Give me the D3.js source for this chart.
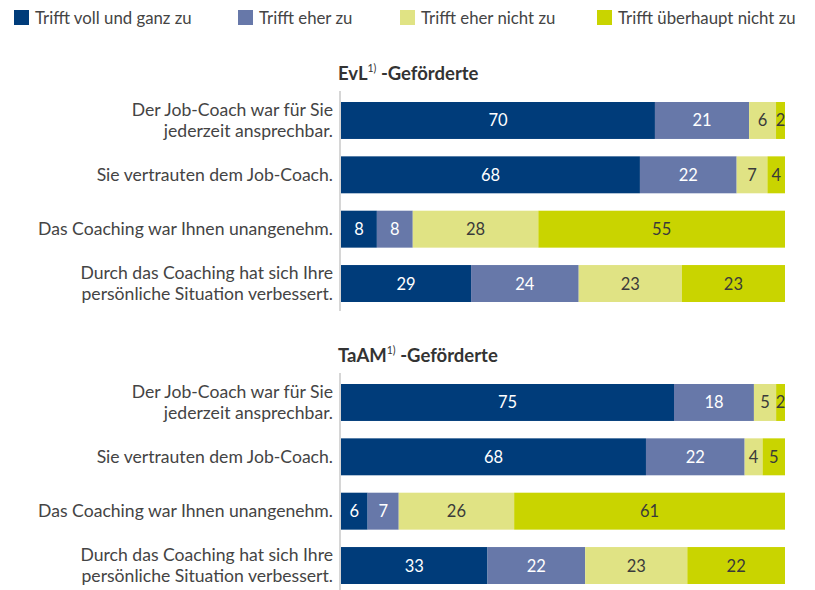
<!DOCTYPE html>
<html>
<head>
<meta charset="utf-8">
<script src="https://cdn.jsdelivr.net/npm/d3@7.9.0/dist/d3.min.js"></script>
<style>
  body { margin: 0; background: #fff; }
  svg { font-family: Lato, "Open Sans", sans-serif; }
</style>
</head>
<body>
<svg id="chart" width="815" height="590"></svg>
<script>
// categories + series
const keys = ['Trifft voll und ganz zu', 'Trifft eher zu', 'Trifft eher nicht zu', 'Trifft überhaupt nicht zu'];
const colors = ['#003c7a', '#6778a9', '#e0e384', '#c9d400'];
const textColors = ['#fff', '#fff', '#3a3a3a', '#3a3a3a'];

const questions = [
  ['Der Job-Coach war für Sie', 'jederzeit ansprechbar.'],
  ['Sie vertrauten dem Job-Coach.'],
  ['Das Coaching war Ihnen unangenehm.'],
  ['Durch das Coaching hat sich Ihre', 'persönliche Situation verbessert.']
];

const groups = ['EvL', 'TaAM'];
// values per group, one row per question (in % , rounded as printed)
const evlValues = [
  [70, 21, 6, 2],
  [68, 22, 7, 4],
  [8, 8, 28, 55],
  [29, 24, 23, 23]
];
const taamValues = [
  [75, 18, 5, 2],
  [68, 22, 4, 5],
  [6, 7, 26, 61],
  [33, 22, 23, 22]
];

const svg = d3.select('#chart');

// legend
const legendX = [14, 238, 400, 597];
const legend = svg.append('g');
keys.forEach((k, i) => {
  legend.append('rect').attr('x', legendX[i]).attr('y', 10).attr('width', 15).attr('height', 15).attr('fill', colors[i]);
  legend.append('text').attr('x', legendX[i] + 21).attr('y', 24)
    .attr('font-size', 16.8).attr('fill', '#444').text(k);
});

const x = d3.scaleLinear().domain([0, 1]).range([341, 785]);
const stack = d3.stack().keys(d3.range(4)).offset(d3.stackOffsetExpand);

function drawGroup(name, values, top) {
  const g = svg.append('g');
  // title with superscript
  const title = g.append('text').attr('x', 338).attr('y', top - 22)
    .attr('font-size', 18.5).attr('font-weight', 'bold').attr('fill', '#333');
  title.append('tspan').text(name);
  title.append('tspan').attr('font-size', 10.5).attr('dy', -8).attr('font-weight', 'normal').text('1)');
  title.append('tspan').attr('dy', 8).text(' -Geförderte');

  const y = d3.scaleBand().domain(d3.range(4)).range([top, top + 200]).paddingInner(0.32).paddingOuter(0);

  g.append('line').attr('x1', 340).attr('x2', 340).attr('y1', top - 11).attr('y2', top + 209)
    .attr('stroke', '#c8c8c8').attr('stroke-width', 1.5);

  const series = stack(values);
  series.forEach((s, si) => {
    s.forEach((d, ri) => {
      const x0 = x(d[0]), x1 = x(d[1]);
      g.append('rect').attr('x', x0).attr('y', y(ri)).attr('width', x1 - x0).attr('height', y.bandwidth())
        .attr('fill', colors[si]);
      g.append('text').attr('x', (x0 + x1) / 2).attr('y', y(ri) + y.bandwidth() / 2 + 6)
        .attr('text-anchor', 'middle').attr('font-size', 16.5).attr('fill', textColors[si])
        .text(values[ri][si]);
    });
  });

  questions.forEach((q, ri) => {
    const cy = y(ri) + y.bandwidth() / 2;
    const t = g.append('text').attr('text-anchor', 'end').attr('font-size', 17.6).attr('fill', '#444');
    q.forEach((line, li) => {
      t.append('tspan').attr('x', 333).attr('y', cy + 6 + (li - (q.length - 1) / 2) * 21).text(line);
    });
  });
}

drawGroup(groups[0], evlValues, 102);
drawGroup(groups[1], taamValues, 384);
</script>
</body>
</html>
